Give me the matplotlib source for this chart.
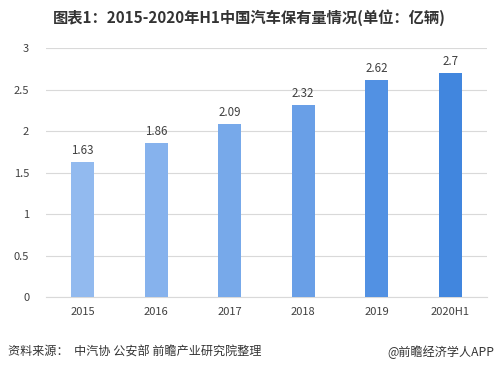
import matplotlib.pyplot as plt

plt.rcParams['font.family'] = ['Noto Sans CJK SC', 'DejaVu Sans']

years = ["2015", "2016", "2017", "2018", "2019", "2020H1"]
values = [1.63, 1.86, 2.09, 2.32, 2.62, 2.7]
colours = ["#92baef", "#86b2ed", "#77a9ea", "#699fe7", "#5291e3", "#4186de"]
yticks = [0, 0.5, 1, 1.5, 2, 2.5, 3]

fig = plt.figure(figsize=(4.99, 3.70), dpi=100)
ax = fig.add_axes([0.092, 0.197, 0.884, 0.673])

x = range(len(years))
ax.bar(x, values, width=0.31, color=colours, zorder=3)
for i, v in enumerate(values):
    ax.text(i, v + 0.06, f"{v:g}", ha="center", va="bottom", fontsize=8.3, color="#404040")

ax.set_xlim(-0.5, len(years) - 0.5)
ax.set_ylim(0, 3)
ax.set_yticks(yticks)
ax.set_yticklabels([f"{t:g}" for t in yticks])
ax.set_xticks(list(x))
ax.set_xticklabels(years)
ax.tick_params(axis="both", length=0, labelsize=8, colors="#404040")
ax.tick_params(axis="y", pad=12)
ax.tick_params(axis="x", pad=7)
ax.grid(axis="y", color="#d9d9d9", linewidth=0.8, zorder=0)
for s in ["top", "right", "left"]:
    ax.spines[s].set_visible(False)
ax.spines["bottom"].set_color("#d9d9d9")

fig.text(0.5, 0.952, "图表1：2015-2020年H1中国汽车保有量情况(单位：亿辆)",
         ha="center", va="center", fontsize=11, fontweight="bold", color="#333333")
fig.text(0.016, 0.048, "资料来源：  中汽协 公安部 前瞻产业研究院整理",
         ha="left", va="center", fontsize=8.7, color="#333333")
fig.text(0.99, 0.048, "@前瞻经济学人APP",
         ha="right", va="center", fontsize=8.7, color="#333333")

fig.savefig("out.png", dpi=100)
